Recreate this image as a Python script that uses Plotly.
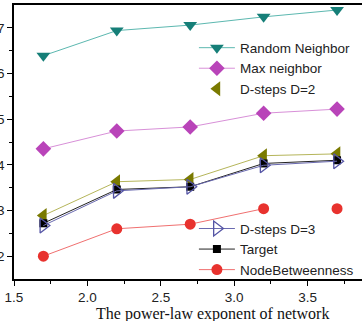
import plotly.graph_objects as go

x_vals = [1.7, 2.2, 2.7, 3.2, 3.7]
random_neighbor = [6.39, 6.94, 7.06, 7.24, 7.39]
max_neighbor = [4.35, 4.74, 4.83, 5.13, 5.22]
dsteps_d2 = [2.89, 3.63, 3.68, 4.20, 4.24]
dsteps_d3 = [2.67, 3.43, 3.52, 3.99, 4.08]
target = [2.72, 3.46, 3.52, 4.03, 4.10]
node_betweenness = [2.00, 2.60, 2.70, 3.04, 3.04]
x_title = "The power-law exponent of network"

fig = go.Figure()

fig.add_trace(go.Scatter(x=x_vals, y=random_neighbor, mode="lines+markers", name="Random Neighbor",
    line=dict(color="#5cb8b0", width=1),
    marker=dict(symbol="triangle-down", size=12, color="#167f78"), legend="legend"))
fig.add_trace(go.Scatter(x=x_vals, y=max_neighbor, mode="lines+markers", name="Max neighbor",
    line=dict(color="#d890d8", width=1),
    marker=dict(symbol="diamond", size=12, color="#b944b9"), legend="legend"))
fig.add_trace(go.Scatter(x=x_vals, y=dsteps_d2, mode="lines", showlegend=False,
    line=dict(color="#b5b55a", width=1), hoverinfo="skip"))
fig.add_trace(go.Scatter(x=x_vals, y=dsteps_d2, mode="markers", name="D-steps D=2",
    marker=dict(symbol="triangle-left", size=13, color="#7a7a00"), legend="legend"))
fig.add_trace(go.Scatter(x=x_vals, y=target, mode="lines+markers", name="Target",
    line=dict(color="#222222", width=1),
    marker=dict(symbol="square", size=8, color="#000000"), legend="legend2", legendrank=2))
fig.add_trace(go.Scatter(x=x_vals, y=dsteps_d3, mode="lines+markers", name="D-steps D=3",
    line=dict(color="#6a6ab0", width=1),
    marker=dict(symbol="triangle-right-open", size=13, color="#5555a5", line=dict(width=1.3)),
    legend="legend2", legendrank=1))
fig.add_trace(go.Scatter(x=x_vals[:4], y=node_betweenness[:4], mode="lines+markers", name="NodeBetweenness",
    line=dict(color="#f07070", width=1),
    marker=dict(symbol="circle", size=11, color="#e8322e"), legend="legend2", legendrank=3))
fig.add_trace(go.Scatter(x=x_vals[4:], y=node_betweenness[4:], mode="markers", showlegend=False,
    marker=dict(symbol="circle", size=11, color="#e8322e")))

legend_common = dict(bgcolor="rgba(0,0,0,0)", borderwidth=0,
    font=dict(family="Liberation Sans, Arial, sans-serif", size=13.5, color="#222222"),
    xanchor="left", yanchor="top", tracegroupgap=0, itemwidth=36)

fig.update_layout(
    width=362, height=321,
    margin=dict(l=14, r=0, t=5, b=42, autoexpand=False),
    paper_bgcolor="white", plot_bgcolor="white",
    showlegend=True,
    legend=dict(x=0.517, y=0.90, **legend_common),
    legend2=dict(x=0.517, y=0.24, traceorder="normal", **legend_common),
    xaxis=dict(range=[1.5, 3.87], tickvals=[1.5, 2.0, 2.5, 3.0, 3.5], ticktext=["1.5", "2.0", "2.5", "3.0", "3.5"],
        automargin=False,
        showline=True, linecolor="black", linewidth=1.5, mirror=True,
        ticks="outside", ticklen=5, tickwidth=1.2, tickcolor="black",
        minor=dict(tickvals=[1.75, 2.25, 2.75, 3.25, 3.75], ticks="outside", ticklen=3, tickwidth=1.2, tickcolor="black"),
        showgrid=False, zeroline=False,
        tickfont=dict(family="Liberation Sans, Arial, sans-serif", size=13.5, color="#222222")),
    yaxis=dict(range=[1.5, 7.5], tickvals=[2, 3, 4, 5, 6, 7], ticktext=["2", "3", "4", "5", "6", "7"],
        automargin=False,
        showline=True, linecolor="black", linewidth=1.5, mirror=False,
        ticks="outside", ticklen=5, tickwidth=1.2, tickcolor="black",
        minor=dict(tickvals=[2.5, 3.5, 4.5, 5.5, 6.5], ticks="outside", ticklen=3, tickwidth=1.2, tickcolor="black"),
        showgrid=False, zeroline=False,
        tickfont=dict(family="Liberation Sans, Arial, sans-serif", size=13.5, color="#222222")),
    annotations=[dict(text=x_title, xref="paper", yref="paper", x=0.569, y=0, xanchor="center", yanchor="top",
        yshift=-24, showarrow=False,
        font=dict(family="Liberation Serif, Times New Roman, serif", size=16, color="#111111"))],
)

fig.write_html("out.html", config={"displayModeBar": False},
               post_script="document.body.style.margin='0';")
